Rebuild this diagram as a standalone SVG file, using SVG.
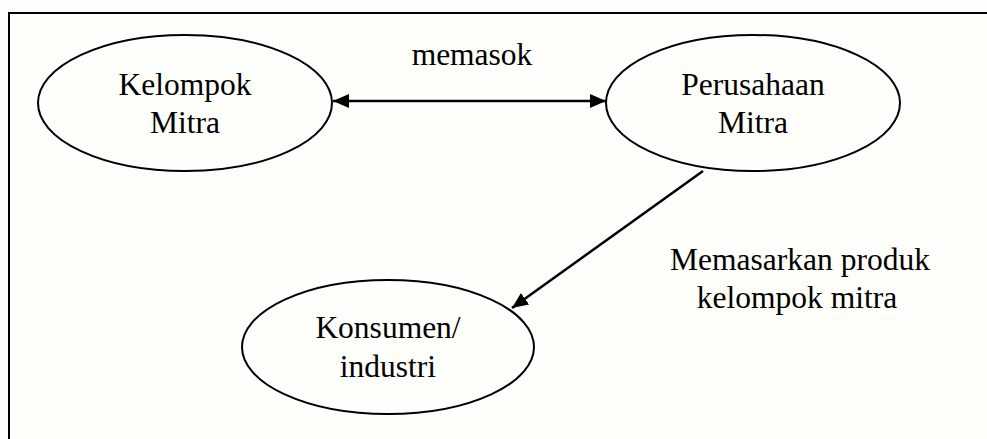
<svg xmlns="http://www.w3.org/2000/svg" width="987" height="439" viewBox="0 0 987 439">
<style>
.node{fill:#fefefb;stroke:#000;stroke-width:2}
.t{font-family:"Liberation Serif","Times New Roman",serif;font-size:31.5px;fill:#000;text-anchor:middle}
.c{stroke:#000;stroke-width:2.5;fill:none}
</style>
<defs>
<marker id="ah" viewBox="0 0 16 14" refX="16" refY="7" markerWidth="16" markerHeight="14" markerUnits="userSpaceOnUse" orient="auto-start-reverse">
<path d="M0,0 L16,7 L0,14 Z" fill="#000"/>
</marker>
</defs>
<rect x="0" y="0" width="987" height="439" fill="#fdfdf9"/>
<rect x="9" y="13" width="990" height="440" fill="#fefefb" stroke="#000" stroke-width="2"/>
<g id="n1">
<ellipse class="node" cx="185" cy="103" rx="147" ry="68"/>
<text class="t" x="185" y="95">Kelompok</text>
<text class="t" x="185" y="133">Mitra</text>
</g>
<g id="n2">
<ellipse class="node" cx="753" cy="103" rx="147" ry="68"/>
<text class="t" x="753" y="95">Perusahaan</text>
<text class="t" x="753" y="133">Mitra</text>
</g>
<g id="n3">
<ellipse class="node" cx="388" cy="347" rx="146" ry="67"/>
<text class="t" x="388" y="338">Konsumen/</text>
<text class="t" x="388" y="377">industri</text>
</g>
<g id="connectors">
<line class="c" x1="333" y1="101" x2="606" y2="101" marker-start="url(#ah)" marker-end="url(#ah)"/>
<line class="c" x1="703" y1="171" x2="512" y2="308" marker-end="url(#ah)"/>
<text class="t" x="472" y="65">memasok</text>
<text class="t" x="800" y="270">Memasarkan produk</text>
<text class="t" x="797" y="308">kelompok mitra</text>
</g>
</svg>
